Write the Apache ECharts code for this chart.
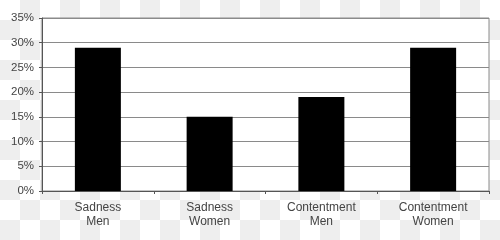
<!DOCTYPE html>
<html>
<head>
<meta charset="utf-8">
<script src="https://cdn.jsdelivr.net/npm/echarts@6/dist/echarts.min.js"></script>
<style>
html,body{margin:0;padding:0;}
#c{width:500px;height:240px;background-color:#fff;background-image:conic-gradient(#eeeeee 0 25%, #ffffff 0 50%, #eeeeee 0 75%, #ffffff 0);background-size:40px 40px;}
</style>
</head>
<body>
<div id="c"></div>
<script>
var categories = ['Sadness\nMen', 'Sadness\nWomen', 'Contentment\nMen', 'Contentment\nWomen'];
var values = [29, 15, 19, 29];
var yTicks = [0, 5, 10, 15, 20, 25, 30, 35];

var chart = echarts.init(document.getElementById('c'), null, {renderer: 'canvas'});
chart.setOption({
  animation: false,
  backgroundColor: 'transparent',
  textStyle: {fontFamily: 'Liberation Sans, Arial, sans-serif'},
  grid: {left: 42, right: 11, top: 18, bottom: 49, show: true, backgroundColor: '#ffffff', borderColor: '#8a8a8a', borderWidth: 1},
  xAxis: {
    type: 'category',
    data: categories,
    axisLine: {lineStyle: {color: '#555', width: 1}},
    axisTick: {show: true, alignWithLabel: false, length: 3, inside: false, lineStyle: {color: '#555'}},
    axisLabel: {color: '#444', fontSize: 12, lineHeight: 14, margin: 10, interval: 0}
  },
  yAxis: {
    type: 'value',
    min: yTicks[0],
    max: yTicks[yTicks.length - 1],
    interval: 5,
    axisLine: {show: true, lineStyle: {color: '#555', width: 1}},
    axisTick: {show: true, length: 3, lineStyle: {color: '#555'}},
    axisLabel: {color: '#444', fontSize: 11.5, margin: 8, formatter: '{value}%'},
    splitLine: {show: true, lineStyle: {color: '#8a8a8a', width: 1}}
  },
  series: [{
    type: 'bar',
    data: values,
    barWidth: 46,
    itemStyle: {color: '#000000'}
  }]
});
</script>
</body>
</html>
